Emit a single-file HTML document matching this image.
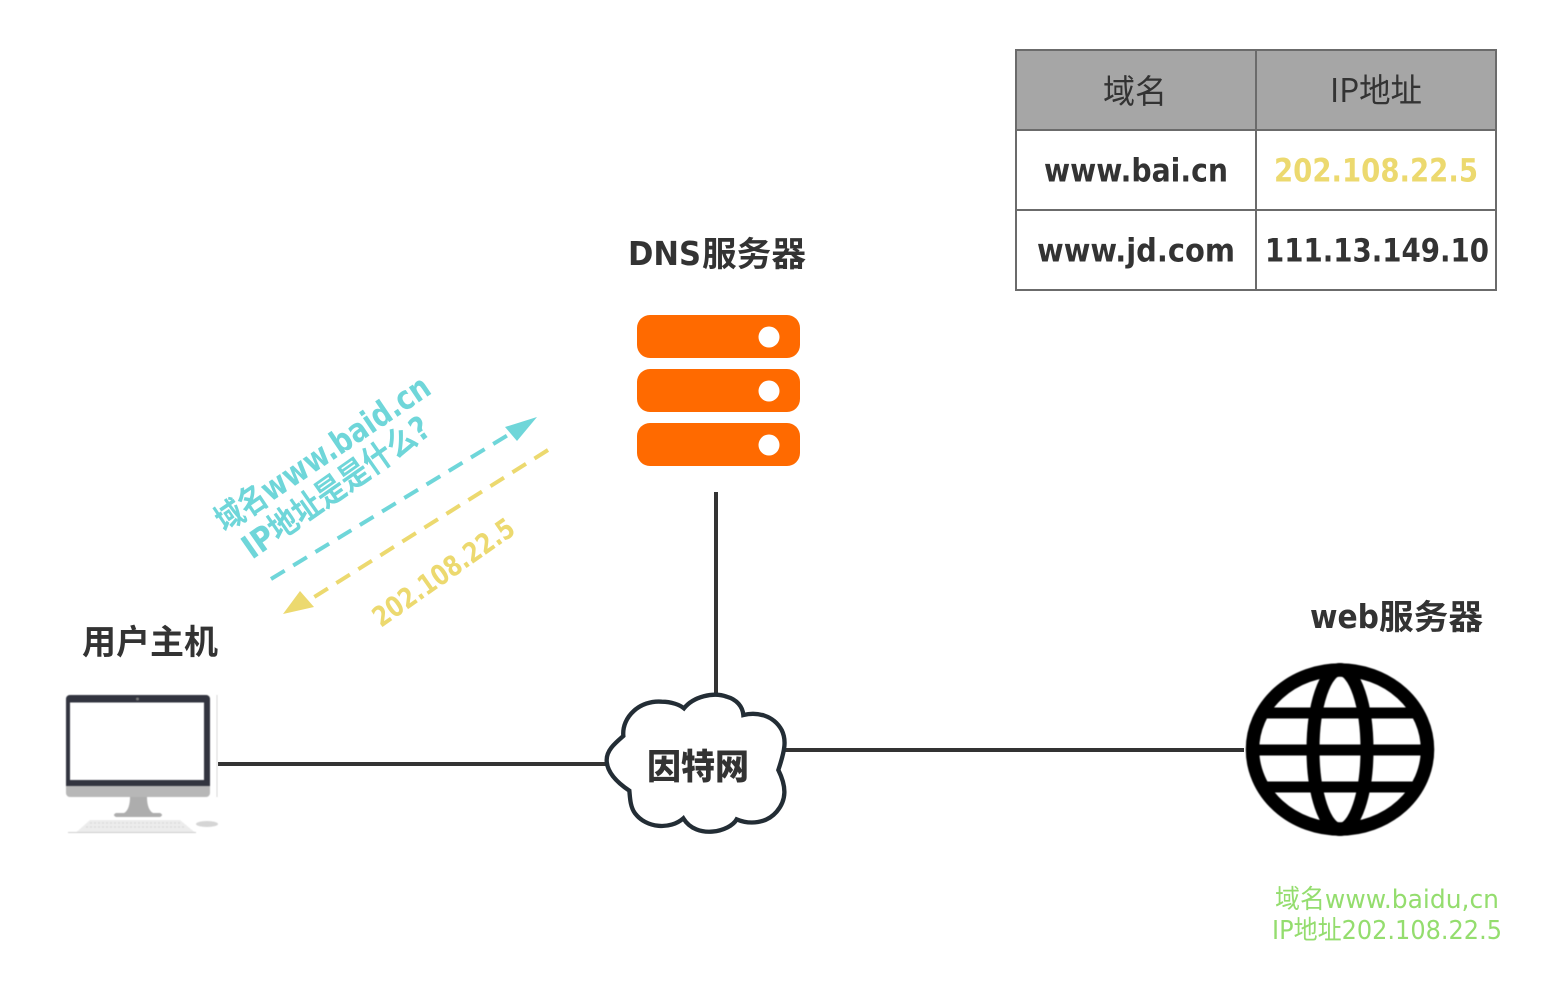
<!DOCTYPE html>
<html><head><meta charset="utf-8">
<style>
html,body{margin:0;padding:0;background:#fff;width:1562px;height:1004px;overflow:hidden}
svg{display:block}
text{font-family:"DejaVu Sans","Noto Sans CJK SC",sans-serif;fill:#333}
.b{font-weight:700}
.c{font-family:"Noto Sans CJK SC",sans-serif}
.soft{filter:blur(.6px)}
</style></head><body>
<svg width="1562" height="1004" viewBox="0 0 1562 1004" xmlns="http://www.w3.org/2000/svg">
<!-- table -->
<rect x="1016" y="50" width="480" height="80" fill="#a6a6a6"/>
<g fill="none" stroke="#6b6b6b" stroke-width="2">
<rect x="1016" y="50" width="480" height="240"/>
<path d="M1256 50V290M1016 130H1496M1016 210H1496"/>
</g>
<text class="c" x="1103" y="103" font-size="33" textLength="64" lengthAdjust="spacingAndGlyphs">域名</text>
<text class="c" x="1330" y="102" font-size="33" textLength="92" lengthAdjust="spacingAndGlyphs">IP地址</text>
<text class="b" x="1044" y="181.5" font-size="32" textLength="184" lengthAdjust="spacingAndGlyphs">www.bai.cn</text>
<text class="b" x="1274" y="181.5" font-size="32" textLength="204" lengthAdjust="spacingAndGlyphs" style="fill:#ecd96f">202.108.22.5</text>
<text class="b" x="1037" y="261.5" font-size="32" textLength="198" lengthAdjust="spacingAndGlyphs">www.jd.com</text>
<text class="b" x="1265" y="261.5" font-size="32" textLength="224" lengthAdjust="spacingAndGlyphs">111.13.149.10</text>
<!-- labels -->
<text class="b" x="628" y="265" font-size="33" textLength="73" lengthAdjust="spacingAndGlyphs">DNS</text>
<text class="c b" x="702" y="266" font-size="34" textLength="104" lengthAdjust="spacingAndGlyphs">服务器</text>
<text class="c b" x="82" y="654" font-size="34" textLength="136" lengthAdjust="spacingAndGlyphs">用户主机</text>
<text class="b" x="1310" y="628" font-size="33" textLength="69" lengthAdjust="spacingAndGlyphs">web</text>
<text class="c b" x="1379" y="629" font-size="34" textLength="104" lengthAdjust="spacingAndGlyphs">服务器</text>
<text x="1275" y="908" font-size="26" textLength="224" lengthAdjust="spacingAndGlyphs" style="fill:#94dd6e">域名www.baidu,cn</text>
<text x="1272" y="939" font-size="26" textLength="230" lengthAdjust="spacingAndGlyphs" style="fill:#94dd6e">IP地址202.108.22.5</text>
<!-- server -->
<g fill="#ff6a00">
<rect x="637" y="315" width="163" height="43" rx="13"/>
<rect x="637" y="369" width="163" height="43" rx="13"/>
<rect x="637" y="423" width="163" height="43" rx="13"/>
</g>
<g fill="#fff"><circle cx="769" cy="337" r="10.5"/><circle cx="769" cy="391" r="10.5"/><circle cx="769" cy="445" r="10.5"/></g>
<!-- connectors -->
<g stroke="#333" stroke-width="4" fill="none">
<path d="M716 492V696"/>
<path d="M218 764H608"/>
<path d="M784 750H1244"/>
</g>
<!-- cloud -->
<g transform="translate(590 680) scale(.33333)">
<path d="M100,168 C95,110 150,60 215,65 C245,65 270,75 282,85 C310,50 370,35 410,50 C440,58 458,80 460,105 C500,95 550,105 575,150 C590,180 585,210 565,270 C590,320 590,360 560,395 C530,430 480,435 440,418 C420,455 320,480 280,415 C240,450 170,445 135,400 C120,380 120,350 118,332 C70,300 50,270 50,240 C50,210 75,190 100,168 Z" fill="#fff" stroke="#232d35" stroke-width="13" stroke-linejoin="miter"/>
</g>
<text class="c" x="647" y="779" font-size="35" font-weight="900" textLength="102" lengthAdjust="spacingAndGlyphs">因特网</text>
<!-- globe -->
<g fill="none" stroke="#000" class="soft">
<ellipse cx="1340" cy="749.5" rx="87.5" ry="79.5" stroke-width="13.5"/>
<ellipse cx="1340" cy="749.5" rx="27" ry="80" stroke-width="13"/>
<path d="M1262 713H1418M1252 750H1428M1262 787H1418" stroke-width="11"/>
</g>
<!-- computer -->
<g class="soft">
<path d="M217 695V797" stroke="#d8d8d8" stroke-width="1"/>
<rect x="66" y="695" width="144" height="102" rx="4" fill="#b7b7b7"/>
<path d="M66 786V699a4 4 0 0 1 4-4H206a4 4 0 0 1 4 4V786Z" fill="#32343f"/>
<rect x="70" y="702.5" width="134" height="77.5" fill="#fff"/>
<circle cx="137.5" cy="699" r="1.5" fill="#777"/>
<path d="M130 797H147C147 805 149 811 153 813H160Q164 815 160 817H116Q112 815 116 813H124C128 811 130 805 130 797Z" fill="#adadad"/>
<path d="M90 820H180L195 832.5H76Z" fill="#ececec"/>
<path d="M90 823H182M86 827H186" stroke="#d4d4d4" stroke-width="1" stroke-dasharray="2 2"/>
<path d="M68 832.5H196" stroke="#cfcfcf" stroke-width="1"/>
<ellipse cx="207" cy="824" rx="11" ry="3" fill="#d5d5d5"/>
</g>
<!-- arrows -->
<path d="M271 579L508 435" stroke="#6fd6d9" stroke-width="4" stroke-dasharray="16 10" fill="none"/>
<path d="M537 417L505 427L517 441Z" fill="#6fd6d9"/>
<path d="M548 450L311 599" stroke="#ecd96f" stroke-width="4" stroke-dasharray="16 10" fill="none"/>
<path d="M283 614L300 591L314 607Z" fill="#ecd96f"/>
<!-- rotated text -->
<text class="b" transform="translate(225 533) rotate(-34)" font-size="33" textLength="251" lengthAdjust="spacingAndGlyphs" style="fill:#6fd6d9">域名www.baid.cn</text>
<text class="b" transform="translate(252 560) rotate(-35)" font-size="33" textLength="221" lengthAdjust="spacingAndGlyphs" style="fill:#6fd6d9">IP地址是是什么?</text>
<text class="b" transform="translate(381 628) rotate(-35)" font-size="28" textLength="166" lengthAdjust="spacingAndGlyphs" style="fill:#ecd96f">202.108.22.5</text>
</svg>
</body></html>
